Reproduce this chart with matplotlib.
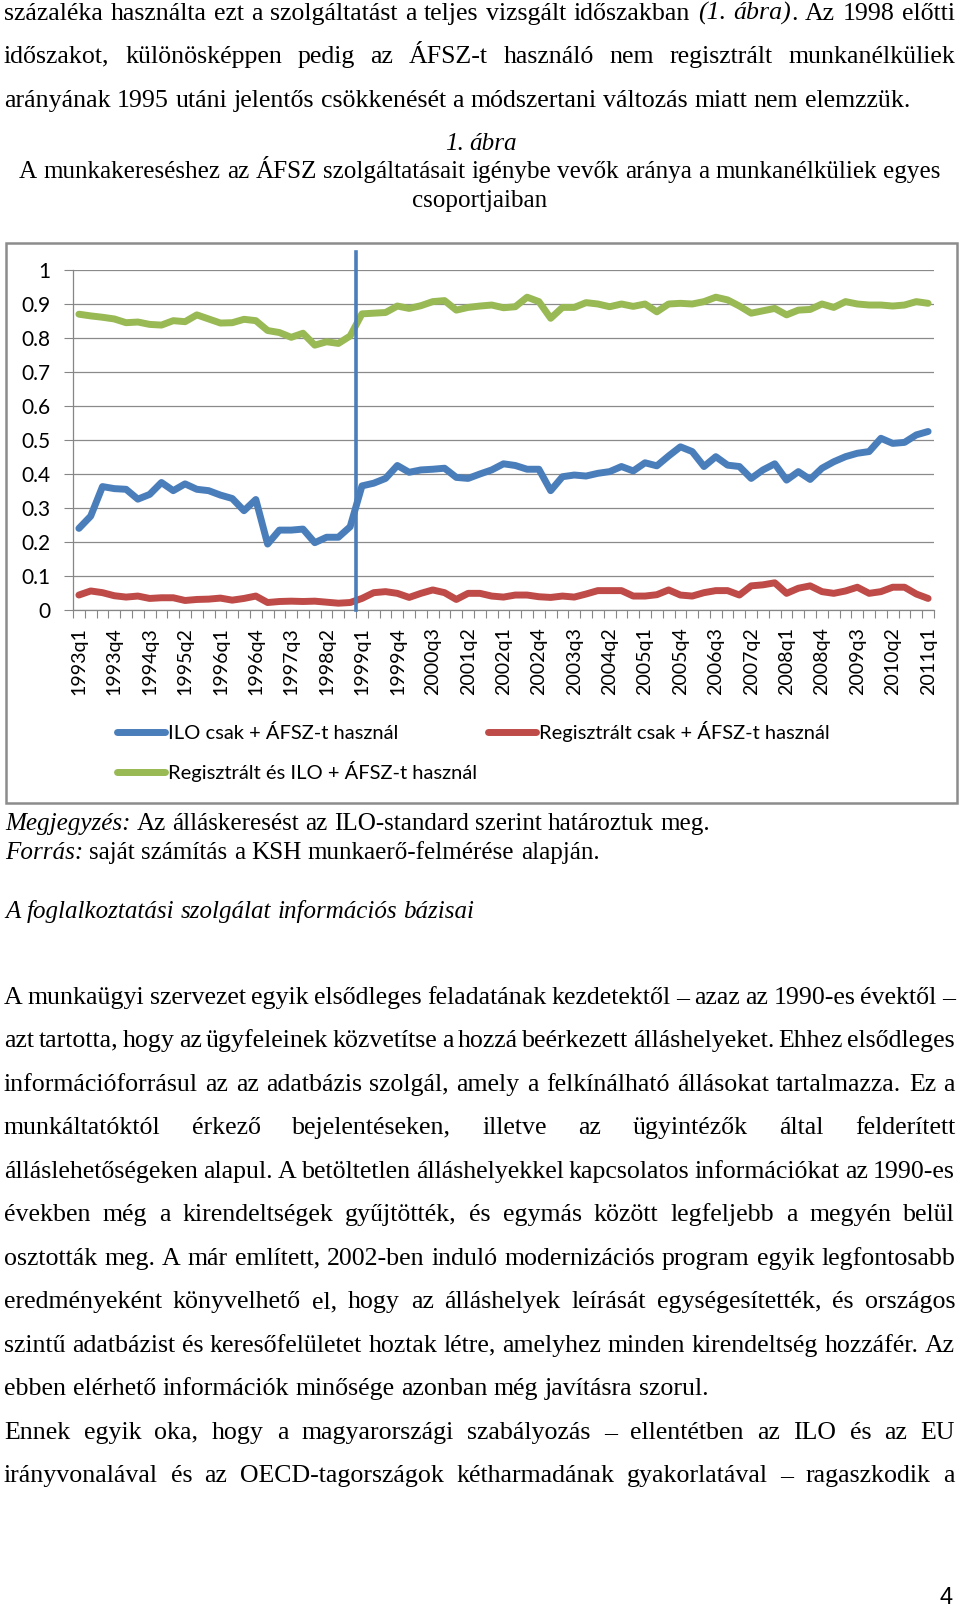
import matplotlib
matplotlib.use("Agg")
import matplotlib.pyplot as plt
from matplotlib.patches import Rectangle
import numpy as np

W, H, DPI = 960, 1612, 100

# ---------------- data ----------------
quarters = [f"{y}q{q}" for y in range(1993, 2012) for q in range(1, 5)][:73]
xtick_labels = quarters[::3]
ytick_values = [0, 0.1, 0.2, 0.3, 0.4, 0.5, 0.6, 0.7, 0.8, 0.9, 1.0]
ytick_labels = ["0", "0.1", "0.2", "0.3", "0.4", "0.5", "0.6", "0.7", "0.8", "0.9", "1"]

ilo_only = [0.240, 0.276, 0.363, 0.357, 0.355, 0.326, 0.340, 0.375, 0.351, 0.371,
            0.355, 0.351, 0.338, 0.328, 0.292, 0.325, 0.194, 0.235, 0.235, 0.238,
            0.198, 0.214, 0.214, 0.245, 0.365, 0.373, 0.387, 0.425, 0.405, 0.412,
            0.414, 0.417, 0.390, 0.387, 0.400, 0.412, 0.430, 0.425, 0.414, 0.414,
            0.351, 0.392, 0.397, 0.394, 0.402, 0.407, 0.422, 0.409, 0.433, 0.424,
            0.453, 0.480, 0.466, 0.422, 0.451, 0.426, 0.422, 0.387, 0.412, 0.430,
            0.382, 0.407, 0.384, 0.417, 0.436, 0.451, 0.461, 0.466, 0.505, 0.490,
            0.493, 0.515, 0.525]
reg_only = [0.044, 0.056, 0.051, 0.042, 0.038, 0.041, 0.034, 0.036, 0.036, 0.028,
            0.031, 0.032, 0.035, 0.029, 0.034, 0.041, 0.022, 0.025, 0.026, 0.025,
            0.026, 0.023, 0.020, 0.022, 0.034, 0.051, 0.054, 0.049, 0.037, 0.049,
            0.059, 0.051, 0.031, 0.049, 0.049, 0.041, 0.038, 0.044, 0.044, 0.039,
            0.037, 0.041, 0.038, 0.047, 0.057, 0.057, 0.057, 0.041, 0.041, 0.045,
            0.059, 0.044, 0.041, 0.051, 0.057, 0.057, 0.044, 0.071, 0.074, 0.080,
            0.049, 0.064, 0.071, 0.054, 0.049, 0.056, 0.067, 0.049, 0.054, 0.067,
            0.067, 0.047, 0.034]
reg_and_ilo = [0.870, 0.865, 0.861, 0.856, 0.845, 0.847, 0.840, 0.838, 0.851, 0.848,
               0.868, 0.856, 0.844, 0.845, 0.855, 0.851, 0.822, 0.816, 0.802, 0.814,
               0.779, 0.789, 0.784, 0.806, 0.871, 0.873, 0.875, 0.894, 0.887, 0.895,
               0.907, 0.910, 0.882, 0.890, 0.894, 0.897, 0.889, 0.892, 0.920, 0.907,
               0.858, 0.890, 0.890, 0.904, 0.900, 0.892, 0.900, 0.893, 0.900, 0.877,
               0.900, 0.902, 0.900, 0.907, 0.920, 0.912, 0.894, 0.873, 0.880, 0.887,
               0.868, 0.882, 0.884, 0.900, 0.890, 0.907, 0.900, 0.897, 0.897, 0.894,
               0.897, 0.907, 0.902]
series_names = ["ILO csak + ÁFSZ-t használ",
                "Regisztrált csak + ÁFSZ-t használ",
                "Regisztrált és ILO + ÁFSZ-t használ"]
break_quarter = "1999q1"

# ---------------- page text ----------------
top_lines = [
    ("százaléka használta ezt a szolgáltatást a teljes vizsgált időszakban *(1. ábra)*. Az 1998 előtti", True),
    ("időszakot, különösképpen pedig az ÁFSZ-t használó nem regisztrált munkanélküliek", True),
    ("arányának 1995 utáni jelentős csökkenését a módszertani változás miatt nem elemzzük.", False),
]
fig_label = "*1. ábra*"
title_lines = ["A munkakereséshez az ÁFSZ szolgáltatásait igénybe vevők aránya a munkanélküliek egyes",
               "csoportjaiban"]
note_lines = ["*Megjegyzés:* Az álláskeresést az ILO-standard szerint határoztuk meg.",
              "*Forrás:* saját számítás a KSH munkaerő-felmérése alapján."]
heading = "*A foglalkoztatási szolgálat információs bázisai*"
body_lines = [
    ("A munkaügyi szervezet egyik elsődleges feladatának kezdetektől – azaz az 1990-es évektől –", True),
    ("azt tartotta, hogy az ügyfeleinek közvetítse a hozzá beérkezett álláshelyeket. Ehhez elsődleges", True),
    ("információforrásul az az adatbázis szolgál, amely a felkínálható állásokat tartalmazza. Ez a", True),
    ("munkáltatóktól érkező bejelentéseken, illetve az ügyintézők által felderített", True),
    ("álláslehetőségeken alapul. A betöltetlen álláshelyekkel kapcsolatos információkat az 1990-es", True),
    ("években még a kirendeltségek gyűjtötték, és egymás között legfeljebb a megyén belül", True),
    ("osztották meg. A már említett, 2002-ben induló modernizációs program egyik legfontosabb", True),
    ("eredményeként könyvelhető el, hogy az álláshelyek leírását egységesítették, és országos", True),
    ("szintű adatbázist és keresőfelületet hoztak létre, amelyhez minden kirendeltség hozzáfér. Az", True),
    ("ebben elérhető információk minősége azonban még javításra szorul.", False),
    ("Ennek egyik oka, hogy a magyarországi szabályozás – ellentétben az ILO és az EU", True),
    ("irányvonalával és az OECD-tagországok kétharmadának gyakorlatával – ragaszkodik a", True),
]
page_number = "4"

# ---------------- figure ----------------
SERIF = "Liberation Serif"
SANS = "Lato"
fig = plt.figure(figsize=(W / DPI, H / DPI), dpi=DPI)
fig.patch.set_facecolor("white")
R = fig.canvas.get_renderer()


def fx(x):
    return x / W


def fy(y):
    return 1 - y / H


def tw(s, size, family, italic=False):
    t = fig.text(0, 0, s, fontsize=size, family=family,
                 style="italic" if italic else "normal")
    e = t.get_window_extent(renderer=R)
    t.remove()
    return e.width, e.height


def parse(line):
    words, italic = [], False
    for w in line.split(" "):
        runs = []
        for k, p in enumerate(w.split("*")):
            if k > 0:
                italic = not italic
            if p:
                runs.append((p, italic))
        words.append(runs)
    return words


def plain(line):
    return line.replace("*", "")


def draw_line(line, y, size, family=SERIF, x0=4, right=None, center=None):
    words = parse(line)
    widths = [sum(tw(t, size, family, it)[0] for t, it in wd) for wd in words]
    space = tw("a a", size, family)[0] - tw("aa", size, family)[0]
    if right is not None and len(words) > 1:
        gap = (right - x0 - sum(widths)) / (len(words) - 1)
    else:
        gap = space
    total = sum(widths) + gap * (len(words) - 1)
    x = x0 if center is None else center - total / 2
    base = y + 0.3 * size * DPI / 72
    for wd, wdt in zip(words, widths):
        xx = x
        for t, it in wd:
            fig.text(fx(xx), fy(base), t, fontsize=size, family=family,
                     style="italic" if it else "normal", ha="left", va="baseline",
                     color="black")
            xx += tw(t, size, family, it)[0]
        x += wdt + gap


# calibrate font sizes from measured line widths
body_size = 10 * 909 / tw(top_lines[2][0], 10, SERIF)[0]
title_size = 10 * 925 / tw(title_lines[0], 10, SERIF)[0]
note_size = 10 * 706 / (tw("Megjegyzés:", 10, SERIF, True)[0] +
                        tw(" Az álláskeresést az ILO-standard szerint határoztuk meg.", 10, SERIF)[0])
head_size = 10 * 470 / tw(plain(heading), 10, SERIF, True)[0]

RIGHT = 955
top_y = [12, 55, 99]
for (ln, just), y in zip(top_lines, top_y):
    draw_line(ln, y, body_size, right=RIGHT if just else None)

draw_line(fig_label, 142, title_size, center=481)
draw_line(title_lines[0], 170, title_size, center=480)
draw_line(title_lines[1], 199, title_size, center=480)

for ln, y in zip(note_lines, [822, 851]):
    draw_line(ln, y, note_size, x0=5)
draw_line(heading, 910, head_size, x0=5)

body_y0, body_dy = 996, 43.5
for k, (ln, just) in enumerate(body_lines):
    draw_line(ln, body_y0 + k * body_dy, body_size, right=RIGHT if just else None)

fig.text(fx(946), fy(1598), page_number, fontsize=17, family="Liberation Sans",
         ha="center", va="center", color="black")

# chart frame
fig.patches.append(Rectangle((fx(6), fy(803)), fx(957) - fx(6), fy(243) - fy(803),
                             transform=fig.transFigure, fill=False,
                             edgecolor="#8c8c8c", lw=1.8))

# ---------------- chart ----------------
ax = fig.add_axes([fx(73), fy(610), fx(934) - fx(73), fy(270) - fy(610)])
ax.set_facecolor("none")
x = np.arange(len(quarters))
line_kw = dict(lw=5, solid_capstyle="round", solid_joinstyle="round")
l_ilo, = ax.plot(x, ilo_only, color="#4A7EBB", label=series_names[0], **line_kw)
l_reg, = ax.plot(x, reg_only, color="#BE4B48", label=series_names[1], **line_kw)
l_both, = ax.plot(x, reg_and_ilo, color="#98B954", label=series_names[2], **line_kw)

bx = quarters.index(break_quarter) - 0.5
ax.axvline(bx, ymin=0, ymax=1.053, color="#4A7EBB", lw=2.6, clip_on=False, zorder=6)

ax.set_xlim(-0.5, len(quarters) - 0.5)
ax.set_ylim(0, 1)
for s in ["top", "right"]:
    ax.spines[s].set_visible(False)
for s in ["left", "bottom"]:
    ax.spines[s].set_color("#868686")
    ax.spines[s].set_linewidth(0.9)
ax.set_axisbelow(True)
ax.yaxis.grid(True, color="#8a8a8a", lw=0.9)

xt_size = 10 * 68 / tw("1993q1", 10, SANS)[0]
yt_size = 10 * 29 / tw("0.9", 10, SANS)[0]
ax.set_xticks(x[::3])
ax.set_xticklabels(xtick_labels, rotation=90, fontsize=xt_size, family=SANS)
ax.set_xticks(np.arange(-0.5, len(quarters), 1), minor=True)
ax.tick_params(axis="x", which="major", length=0, pad=12.2)
ax.tick_params(axis="x", which="minor", length=5.8, width=0.8, color="#868686")
ax.set_yticks(ytick_values)
ax.set_yticklabels(ytick_labels, fontsize=yt_size, family=SANS)
ax.tick_params(axis="y", length=6.5, width=0.8, color="#868686", pad=10)

# legend
leg_size = 10 * 230 / tw(series_names[0], 10, SANS)[0]
fs_px = leg_size * DPI / 72
w_green, h_txt = tw(series_names[2], leg_size, SANS)
handle_px, pad_px = 48, 3
colspace = (488 - (117 + handle_px + pad_px + w_green)) / fs_px
labelspacing = (40 - h_txt) / fs_px
leg = ax.legend([l_ilo, l_both, l_reg], [series_names[0], series_names[2], series_names[1]],
                ncol=2, loc="upper left", bbox_to_anchor=(fx(117), fy(732 - h_txt / 2)),
                bbox_transform=fig.transFigure, frameon=False,
                prop={"family": SANS, "size": leg_size},
                handlelength=handle_px / fs_px, handletextpad=pad_px / fs_px,
                columnspacing=colspace, labelspacing=labelspacing,
                borderpad=0, borderaxespad=0)

fig.savefig("out.png", dpi=DPI, facecolor="white")
